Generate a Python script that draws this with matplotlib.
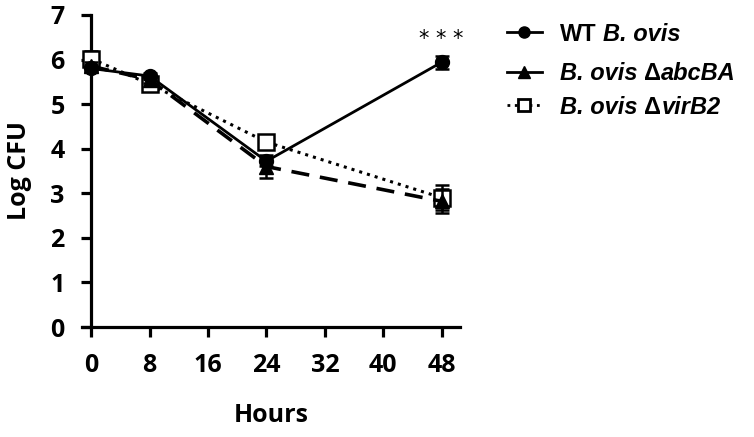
import matplotlib
matplotlib.use("Agg")
from matplotlib import pyplot as plt
from matplotlib.lines import Line2D

hours = [0, 8, 24, 48]

wt_mean = [5.80, 5.63, 3.72, 5.94]
wt_err = [0.08, 0.06, 0.10, 0.15]

abc_mean = [5.85, 5.55, 3.60, 2.82]
abc_err = [0.10, 0.07, 0.25, 0.27]

vir_mean = [6.02, 5.45, 4.15, 2.90]
vir_err = [0.18, 0.08, 0.12, 0.28]

# legend labels as (text, italic, space before) pieces
labels = [
    [("WT", False, 0), ("B. ovis", True, 1)],
    [("B. ovis", True, 0), ("Δ", False, 1), ("abcBA", True, 0)],
    [("B. ovis", True, 0), ("Δ", False, 1), ("virB2", True, 0)],
]

xticks = [0, 8, 16, 24, 32, 40, 48]
yticks = [0, 1, 2, 3, 4, 5, 6, 7]

fig = plt.figure(figsize=(7.54, 4.37), dpi=100)
ax = fig.add_axes([0.109, 0.2517, 0.501, 0.714])

ax.errorbar(hours, vir_mean, yerr=vir_err, color='black', linestyle=':', linewidth=2.2,
            marker='s', markersize=11, markerfacecolor='white', markeredgewidth=1.8,
            capsize=5, elinewidth=1.8, capthick=1.8, zorder=3)
ax.errorbar(hours, abc_mean, yerr=abc_err, color='black', linestyle=(0, (5, 3)), linewidth=2.6,
            marker='^', markersize=10, capsize=5, elinewidth=1.8, capthick=1.8, zorder=4)
ax.errorbar(hours, wt_mean, yerr=wt_err, color='black', linestyle='-', linewidth=2.0,
            marker='o', markersize=10, capsize=5, elinewidth=1.8, capthick=1.8, zorder=5)

ax.text(48, 6.46, "* * *", ha='center', va='center', fontsize=15, family='DejaVu Sans')

ax.set_xlim(-1.23, 50.5)
ax.set_ylim(0, 7)
ax.set_xticks(xticks)
ax.set_yticks(yticks)

for side in ['top', 'right']:
    ax.spines[side].set_visible(False)
ax.spines['left'].set_position(('data', 0))
for side in ['left', 'bottom']:
    ax.spines[side].set_linewidth(2.3)

ax.tick_params(axis='both', direction='out', length=7, width=2.3, pad=12)
for lab in ax.get_xticklabels() + ax.get_yticklabels():
    lab.set_fontfamily('Open Sans')
    lab.set_fontweight('bold')
    lab.set_fontsize(18)

ax.set_xlabel("Hours", fontsize=18, fontweight='bold', family='Open Sans', labelpad=18)
ax.set_ylabel("Log CFU", fontsize=18, fontweight='bold', family='Open Sans', labelpad=13)

# hand-made legend
styles = [
    dict(linestyle='-', marker='o', markerfacecolor='black', markeredgewidth=1),
    dict(linestyle='-', marker='^', markerfacecolor='black', markeredgewidth=1),
    dict(linestyle=':', marker='s', markerfacecolor='white', markeredgewidth=2),
]
rows_y = [0.926, 0.836, 0.759]
fs = 17
space = 0.278 * fs
for y, st, parts in zip(rows_y, styles, labels):
    fig.add_artist(Line2D([0.672, 0.6955, 0.719], [y, y, y], transform=fig.transFigure,
                          color='black', linewidth=2, markersize=8, markevery=[1], **st))
    prev = None
    for txt, it, sp in parts:
        kw = dict(fontsize=fs, fontweight='bold', family='Liberation Sans',
                  fontstyle='italic' if it else 'normal')
        if prev is None:
            prev = fig.text(0.743, y - 0.004, txt, va='center', ha='left', **kw)
        else:
            prev = ax.annotate(txt, xy=(1, 0), xycoords=prev, xytext=(sp * space, 0),
                               textcoords='offset points', ha='left', va='bottom',
                               annotation_clip=False, **kw)

fig.savefig("out.png", dpi=100)
